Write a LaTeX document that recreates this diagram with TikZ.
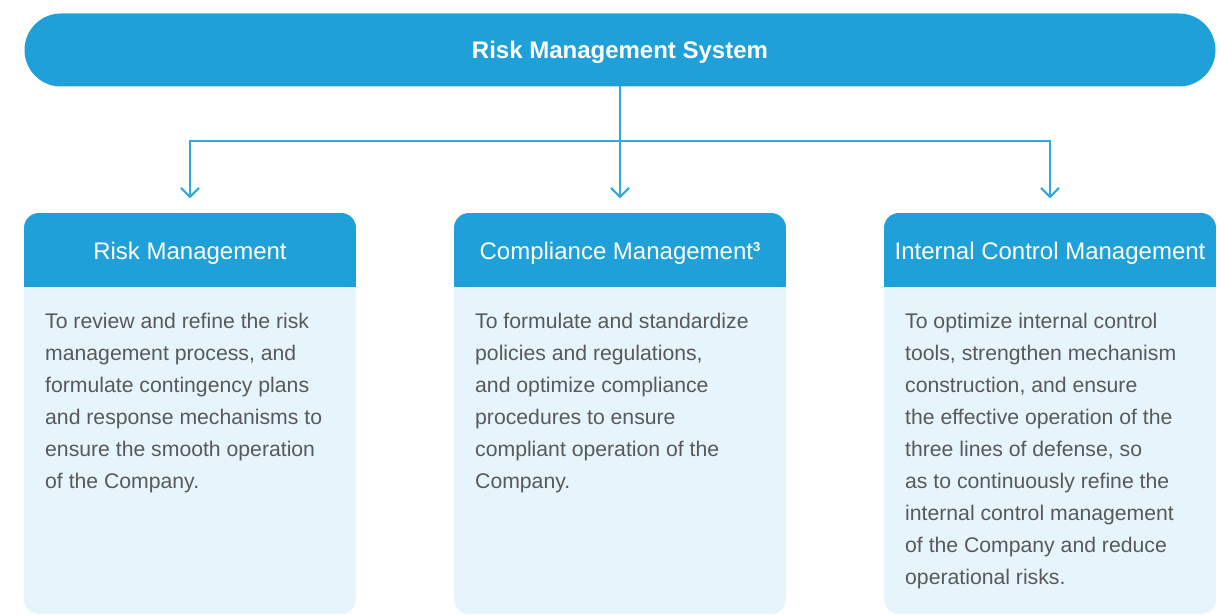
\documentclass[tikz,border=0pt]{standalone}
\usepackage{fontspec}
\setmainfont{Liberation Sans}
\usetikzlibrary{arrows.meta}
\definecolor{mainblue}{HTML}{1FA0D8}
\definecolor{lineblue}{HTML}{2EA8DE}
\definecolor{lightbg}{HTML}{E6F4FB}
\definecolor{bodygray}{HTML}{595959}
\newcommand{\supnum}[1]{\raisebox{8pt}{\fontsize{13}{13}\selectfont\bfseries #1}}
\begin{document}
\begin{tikzpicture}[x=1pt,y=-1pt,
  titlebox/.style={fill=mainblue, rounded corners=36.5pt, minimum width=1191pt, minimum height=73pt, inner sep=0pt, text=white, font=\fontsize{24}{28}\selectfont\bfseries, text height=17pt, text depth=0pt},
  hdrbox/.style={minimum width=332pt, minimum height=74pt, inner sep=0pt, text=white, font=\fontsize{24}{28}\selectfont, text height=17pt, text depth=0pt},
  bodytext/.style={anchor=north west, inner sep=0pt, align=left, text=bodygray, font=\fontsize{21.2}{32}\selectfont},
  conn/.style={draw=lineblue, line width=2pt, line cap=rect},
  arr/.style={conn, -{Straight Barb[length=9pt,width=18pt,line width=2pt]}, shorten >=15pt},
  panelbg/.style={fill=lightbg},
  panelhdr/.style={fill=mainblue}
]
\useasboundingbox (0,0) rectangle (1223,615);

% panels
\foreach \x in {24,454,884}{
  \begin{scope}
    \clip[rounded corners=15pt] (\x,213) rectangle (\x+332,614);
    \fill[panelbg] (\x,213) rectangle (\x+332,614);
    \fill[panelhdr] (\x,213) rectangle (\x+332,287);
  \end{scope}
}

% title
\node[titlebox] (top) at (620,50) {Risk Management System};

% headers
\node[hdrbox] (h1) at (190,250.5) {Risk Management};
\node[hdrbox] (h2) at (620,250.5) {Compliance Management\supnum{3}};
\node[hdrbox] (h3) at (1050,250.5) {Internal Control Management};

% bodies
\node[bodytext] (b1) at (45,308) {\rule{0pt}{20pt}To review and refine the risk\\management process, and\\formulate contingency plans\\and response mechanisms to\\ensure the smooth operation\\of the Company.};
\node[bodytext] (b2) at (475,308) {\rule{0pt}{20pt}To formulate and standardize\\policies and regulations,\\and optimize compliance\\procedures to ensure\\compliant operation of the\\Company.};
\node[bodytext] (b3) at (905,308) {\rule{0pt}{20pt}To optimize internal control\\tools, strengthen mechanism\\construction, and ensure\\the effective operation of the\\three lines of defense, so\\as to continuously refine the\\internal control management\\of the Company and reduce\\operational risks.};

% connectors
\coordinate (j1) at (190,141);
\coordinate (j3) at (1050,141);
\draw[conn] (j1) -- (j3);
\draw[arr] (top.south) -- (h2.north);
\draw[arr] (j1) -- (h1.north);
\draw[arr] (j3) -- (h3.north);
\end{tikzpicture}
\end{document}
